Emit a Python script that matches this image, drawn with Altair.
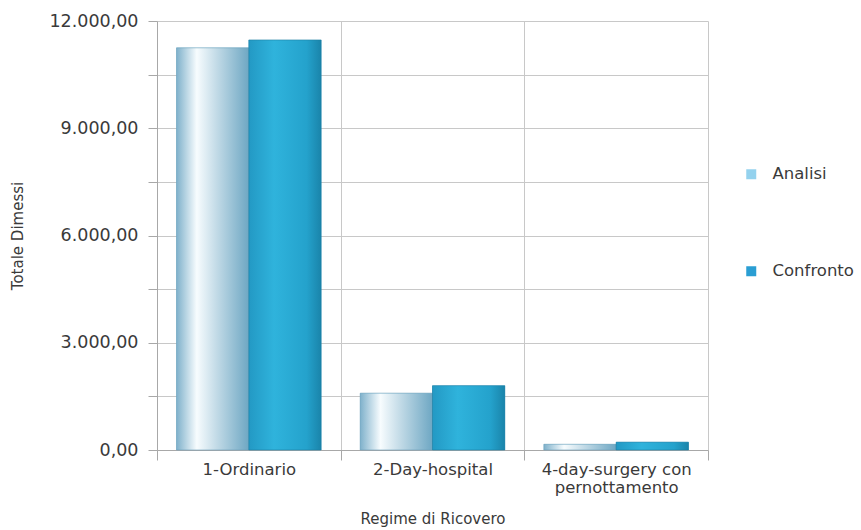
import altair as alt
import pandas as pd

# Totale dimessi per regime di ricovero: periodo di analisi vs confronto
categories = ["1-Ordinario", "2-Day-hospital", "4-day-surgery con pernottamento"]
series = ["Analisi", "Confronto"]
analisi = [11250, 1590, 160]
confronto = [11470, 1800, 220]
y_ticks = [0, 1500, 3000, 4500, 6000, 7500, 9000, 10500, 12000]

rows = []
for cat, a, c in zip(categories, analisi, confronto):
    rows.append({"regime": cat, "serie": "Analisi", "dimessi": a})
    rows.append({"regime": cat, "serie": "Confronto", "dimessi": c})
df = pd.DataFrame(rows)

FONT = "DejaVu Sans"

grad_analisi = alt.Gradient(
    gradient="linear", x1=0, x2=1, y1=0, y2=0,
    stops=[
        alt.GradientStop(offset=0.0, color="#7fb1cb"),
        alt.GradientStop(offset=0.28, color="#f7fcfe"),
        alt.GradientStop(offset=0.55, color="#c3dbe7"),
        alt.GradientStop(offset=1.0, color="#6ea7c3"),
    ],
)
grad_confronto = alt.Gradient(
    gradient="linear", x1=0, x2=1, y1=0, y2=0,
    stops=[
        alt.GradientStop(offset=0.0, color="#2399c4"),
        alt.GradientStop(offset=0.35, color="#2fb3dc"),
        alt.GradientStop(offset=0.8, color="#24a2cc"),
        alt.GradientStop(offset=1.0, color="#1a84aa"),
    ],
)

x_enc = alt.X(
    "regime:N",
    sort=categories,
    scale=alt.Scale(paddingInner=0, paddingOuter=0),
    title="Regime di Ricovero",
    axis=alt.Axis(
        labelAngle=0,
        tickBand="extent",
        grid=True,
        tickSize=10,
        labelPadding=1,
        titlePadding=15,
        labelExpr="datum.label == '4-day-surgery con pernottamento' ? ['4-day-surgery con', 'pernottamento'] : datum.label",
    ),
)
# the offset scale leaves an empty margin on both sides of each pair of bars
xoff_enc = alt.XOffset(
    "serie:N", scale=alt.Scale(domain=series, paddingInner=0, paddingOuter=0.27)
)
y_enc = alt.Y(
    "dimessi:Q",
    scale=alt.Scale(domain=[0, 12000], nice=False),
    title="Totale Dimessi",
    axis=alt.Axis(
        values=y_ticks,
        tickSize=9,
        labelPadding=10,
        labelFontSize=17.5,
        titlePadding=23,
        labelExpr="datum.value % 3000 == 0 ? replace(replace(replace(format(datum.value, ',.2f'), ',', '_'), '.', ','), '_', '.') : ''",
    ),
)

base = alt.Chart(df)

# solid bars carry the legend; gradient bars are drawn on top of them
solid = base.mark_bar().encode(
    x=x_enc,
    xOffset=xoff_enc,
    y=y_enc,
    color=alt.Color(
        "serie:N",
        scale=alt.Scale(domain=series, range=["#94d2ee", "#2a9ed3"]),
        title=None,
        legend=alt.Legend(
            orient="none",
            legendX=586,
            legendY=145,
            symbolType="square",
            symbolSize=100,
            symbolStrokeWidth=0,
            rowPadding=80,
            labelFontSize=16.5,
            labelOffset=13,
        ),
    ),
)

bars_a = base.transform_filter(alt.datum.serie == "Analisi").mark_bar(
    fill=grad_analisi, stroke="#6d9fb8", strokeWidth=0.6
).encode(x=x_enc, xOffset=xoff_enc, y=y_enc)

bars_c = base.transform_filter(alt.datum.serie == "Confronto").mark_bar(
    fill=grad_confronto, stroke="#1b7ea3", strokeWidth=0.6
).encode(x=x_enc, xOffset=xoff_enc, y=y_enc)

chart = (
    alt.layer(solid, bars_a, bars_c)
    .properties(
        width=551,
        height=429,
        background="white",
        padding={"left": 10, "top": 12, "right": 5, "bottom": 3},
    )
    .configure_view(stroke=None)
    .configure_axis(
        labelFont=FONT,
        titleFont=FONT,
        labelFontSize=16.5,
        titleFontSize=15,
        titleFontWeight="normal",
        labelColor="#3a3a3a",
        titleColor="#3a3a3a",
        gridColor="#c8c8c8",
        gridWidth=1,
        domainColor="#a8a8a8",
        tickColor="#a8a8a8",
    )
    .configure_legend(labelFont=FONT, labelColor="#3a3a3a")
)

chart.save("out.html", embed_options={"renderer": "svg", "actions": False})
